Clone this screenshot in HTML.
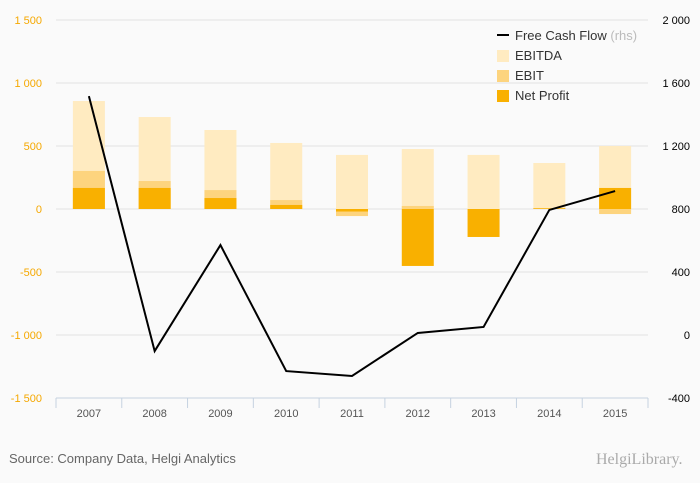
<!DOCTYPE html>
<html><head><meta charset="utf-8"><style>
body{margin:0;background:#fafafa;font-family:"Liberation Sans",sans-serif}
svg{display:block}
</style></head><body>
<svg id="c" width="700" height="483">
<rect width="700" height="483" fill="#fafafa"/>
<g id="grid"></g><g id="bars"></g><g id="line"></g><g id="axes"></g>
<g font-size="13" fill="#333">
<line x1="497" y1="35" x2="509" y2="35" stroke="#000" stroke-width="2"/>
<text x="515" y="40">Free Cash Flow <tspan fill="#bbb">(rhs)</tspan></text>
<rect x="497" y="50" width="12" height="12" fill="#ffebc1"/><text x="515" y="60">EBITDA</text>
<rect x="497" y="70" width="12" height="12" fill="#fdd47e"/><text x="515" y="80">EBIT</text>
<rect x="497" y="90" width="12" height="12" fill="#f9b000"/><text x="515" y="100">Net Profit</text>
</g>
<text x="9" y="463" font-size="13" fill="#666">Source: Company Data, Helgi Analytics</text>
<text x="596" y="464" font-size="16" fill="#aaa" font-family="Liberation Serif,serif">HelgiLibrary.</text>
</svg>
<script>
const years=["2007","2008","2009","2010","2011","2012","2013","2014","2015"];
const ebitda=[857,730,627,524,429,476,429,365,500];
const ebit=[302,222,150,71,-56,24,-5,8,-40];
const netProfit=[167,167,87,32,-20,-452,-222,5,167];
const fcf=[1517,-102,571,-229,-260,13,51,794,914];
const leftTicks=[1500,1000,500,0,-500,-1000,-1500];
const rightTicks=[2000,1600,1200,800,400,0,-400];
const NS="http://www.w3.org/2000/svg";
const x0=56,x1=648,yTop=20,yBot=398;
const yL=v=>209-v*0.126;
const yR=v=>yBot-(v+400)*(yBot-yTop)/2400;
const bw=(x1-x0)/years.length;
const xc=i=>x0+bw*(i+0.5);
function mk(p,t,a){const e=document.createElementNS(NS,t);for(const k in a)e.setAttribute(k,a[k]);document.getElementById(p).appendChild(e);return e;}
function fmt(v){const s=Math.abs(v).toString().replace(/\B(?=(\d{3})+(?!\d))/g,' ');return (v<0?'-':'')+s;}
leftTicks.forEach(v=>{
 const l=mk('grid','line',{x1:x0,x2:x1,y1:yL(v),y2:yL(v),stroke:'#e3e3e3'});
 
 
 const t=mk('axes','text',{x:42,y:yL(v)+4,'text-anchor':'end','font-size':11,fill:'#f5a800'});
 t.textContent=fmt(v);
 
 
});
rightTicks.forEach(v=>{
 const t=mk('axes','text',{x:690,y:yR(v)+4,'text-anchor':'end','font-size':11,fill:'#000'});
 t.textContent=fmt(v);
 
 
});
const ax=mk('axes','line',{x1:x0,x2:x1,y1:yBot,y2:yBot,stroke:'#c5d2e0'});


for(let i=0;i<=years.length;i++){const tk=mk('axes','line',{x1:x0+bw*i,x2:x0+bw*i,y1:yBot,y2:yBot+10,stroke:'#c5d2e0'});
 
 }
years.forEach((y,i)=>{const t=mk('axes','text',{x:xc(i),y:417,'text-anchor':'middle','font-size':11,fill:'#555'});t.textContent=y;
 
 });
function bar(v,i,c,name){const a=yL(0),b=yL(v);const r=mk('bars','rect',{x:xc(i)-16,width:32,y:Math.min(a,b),height:Math.abs(a-b),fill:c});
 
 }
years.forEach((y,i)=>{bar(ebitda[i],i,'#ffebc1','ebitda-bar');bar(ebit[i],i,'#fdd47e','ebit-bar');bar(netProfit[i],i,'#f9b000','net-profit-bar');});
const p=mk('line','polyline',{points:fcf.map((v,i)=>xc(i)+','+yR(v)).join(' '),fill:'none',stroke:'#000','stroke-width':2});


</script>
</body></html>
